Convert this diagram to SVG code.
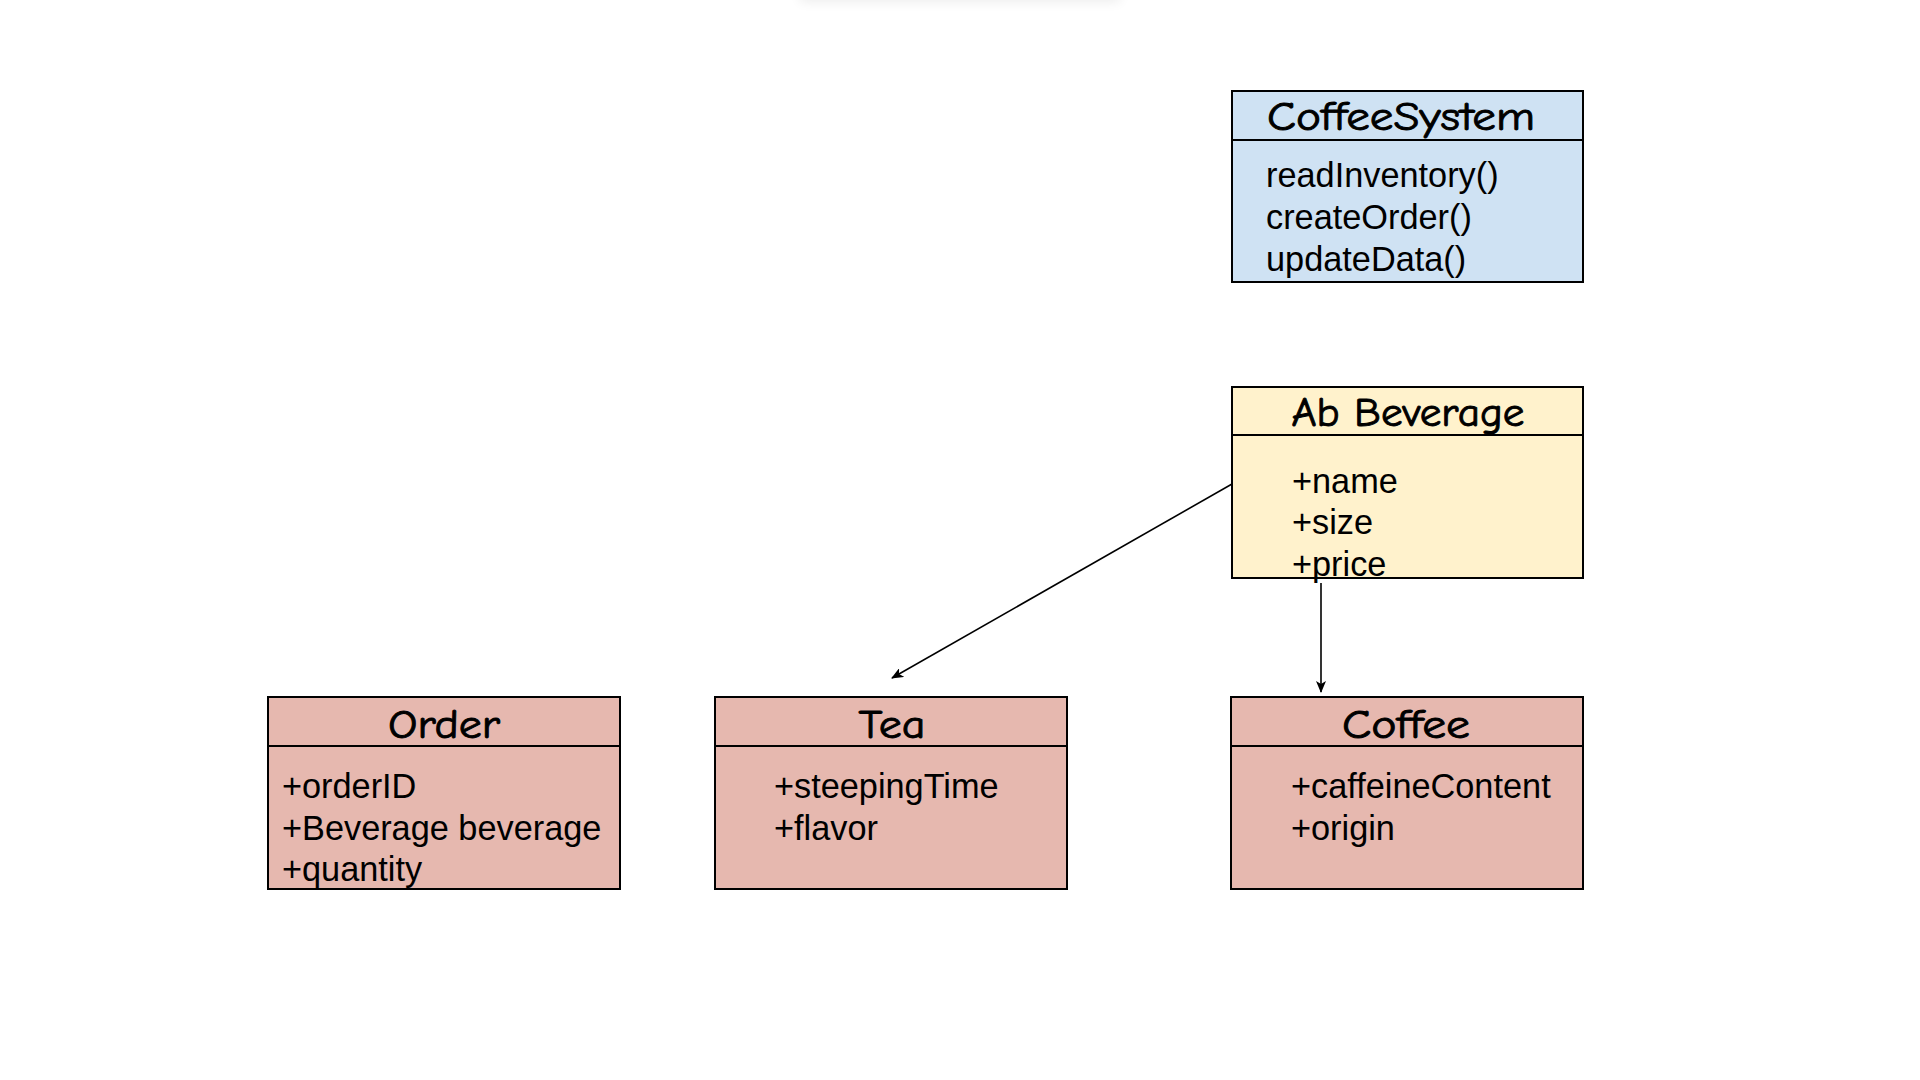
<svg xmlns="http://www.w3.org/2000/svg" width="1920" height="1080" viewBox="0 0 1920 1080">
  <style>
    .box { stroke: #000; stroke-width: 2; }
    .div { stroke: #000; stroke-width: 2; }
    .blue { fill: #cfe2f3; }
    .yellow { fill: #fff2cc; }
    .pink { fill: #e6b8af; }
    .title { font-family: "Comic Sans MS", "Comic Neue", "Noto Sans", sans-serif; font-size: 41px; font-weight: normal; fill: #000; stroke: #000; stroke-width: 0.9; text-anchor: middle; }
    .body { font-family: "Liberation Sans", Arial, sans-serif; font-size: 34.3px; fill: #000; }
    .conn { stroke: #000; stroke-width: 1.6; fill: none; }
  </style>
  <defs>
    <marker id="arrow" viewBox="0 0 12 10" refX="11" refY="5" markerWidth="12" markerHeight="10" markerUnits="userSpaceOnUse" orient="auto">
      <path d="M0,0 L12,5 L0,10 L3,5 Z" fill="#000"/>
    </marker>
    <filter id="blur" x="-20%" y="-200%" width="140%" height="500%">
      <feGaussianBlur stdDeviation="6"/>
    </filter>
  </defs>
  <rect width="1920" height="1080" fill="#fff"/>
  <rect x="800" y="-22" width="320" height="24" fill="#000" opacity="0.07" filter="url(#blur)"/>

  <g id="CoffeeSystem">
    <rect class="box blue" x="1232" y="91" width="351" height="191"/>
    <line class="div" x1="1232" y1="140" x2="1583" y2="140"/>
    <text class="title" x="1401" y="130" textLength="268" lengthAdjust="spacingAndGlyphs">CoffeeSystem</text>
    <text class="body" x="1266" y="187">readInventory()</text>
    <text class="body" x="1266" y="229">createOrder()</text>
    <text class="body" x="1266" y="270.5">updateData()</text>
  </g>

  <g id="AbBeverage">
    <rect class="box yellow" x="1232" y="387" width="351" height="191"/>
    <line class="div" x1="1232" y1="435" x2="1583" y2="435"/>
    <text class="title" x="1408" y="426" textLength="233" lengthAdjust="spacingAndGlyphs">Ab Beverage</text>
    <text class="body" x="1292" y="492.5">+name</text>
    <text class="body" x="1292" y="534">+size</text>
    <text class="body" x="1292" y="575.5">+price</text>
  </g>

  <g id="Order">
    <rect class="box pink" x="268" y="697" width="352" height="192"/>
    <line class="div" x1="268" y1="746" x2="620" y2="746"/>
    <text class="title" x="444" y="738" textLength="112" lengthAdjust="spacingAndGlyphs">Order</text>
    <text class="body" x="282" y="798">+orderID</text>
    <text class="body" x="282" y="839.5">+Beverage beverage</text>
    <text class="body" x="282" y="881">+quantity</text>
  </g>

  <g id="Tea">
    <rect class="box pink" x="715" y="697" width="352" height="192"/>
    <line class="div" x1="715" y1="746" x2="1067" y2="746"/>
    <text class="title" x="892" y="738" textLength="67" lengthAdjust="spacingAndGlyphs">Tea</text>
    <text class="body" x="774" y="798">+steepingTime</text>
    <text class="body" x="774" y="839.5">+flavor</text>
  </g>

  <g id="Coffee">
    <rect class="box pink" x="1231" y="697" width="352" height="192"/>
    <line class="div" x1="1231" y1="746" x2="1583" y2="746"/>
    <text class="title" x="1406" y="738" textLength="128" lengthAdjust="spacingAndGlyphs">Coffee</text>
    <text class="body" x="1291" y="798">+caffeineContent</text>
    <text class="body" x="1291" y="839.5">+origin</text>
  </g>

  <g id="connectors">
    <line class="conn" x1="1232" y1="484" x2="892" y2="678" marker-end="url(#arrow)"/>
    <line class="conn" x1="1321" y1="583" x2="1321" y2="692" marker-end="url(#arrow)"/>
  </g>
</svg>
